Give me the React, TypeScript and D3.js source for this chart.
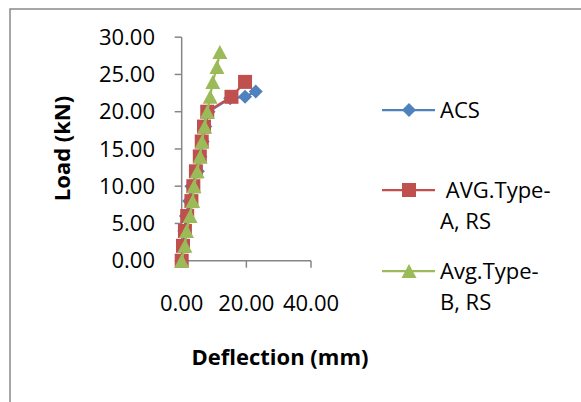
import React from "react";
import * as d3 from "d3";

const loadTicks = [0, 5, 10, 15, 20, 25, 30];
const deflTicks = [0, 20, 40];

const acsDefl = [0, 0.3, 0.8, 1.3, 2.3, 3.0, 5.0, 5.8, 6.5, 7.3, 8.3, 15.0, 19.6, 22.9];
const acsLoad = [0, 2, 4, 6, 8, 10, 12, 14, 16, 18, 20, 21.8, 22.0, 22.7];

const typeADefl = [0, 0.4, 1.0, 1.7, 3.0, 3.6, 4.4, 5.6, 6.2, 6.9, 7.9, 15.4, 19.6];
const typeALoad = [0, 2, 4, 6, 8, 10, 12, 14, 16, 18, 20, 22, 24];

const typeBDefl = [0, 1.0, 1.5, 2.6, 3.4, 3.8, 4.8, 5.7, 6.3, 7.1, 7.9, 8.8, 9.6, 10.9, 11.8];
const typeBLoad = [0, 2, 4, 6, 8, 10, 12, 14, 16, 18, 20, 22, 24, 26, 28];

const seriesNames = ["ACS", " AVG.Type-\nA, RS", "Avg.Type-\nB, RS"];
const seriesColors = ["#4F81BD", "#C0504D", "#9BBB59"];

const FONT = "'Open Sans', 'Noto Sans', sans-serif";

function markerPath(kind: number): string {
  if (kind === 0) return "M0,-7L7,0L0,7L-7,0Z";
  if (kind === 1) return "M-7,-7L7,-7L7,7L-7,7Z";
  return "M0,-7L7.5,7L-7.5,7Z";
}

export default function App() {
  const x = d3.scaleLinear().domain([0, 40]).range([181.7, 311]);
  const y = d3.scaleLinear().domain([0, 30]).range([260.7, 37.2]);
  const series = [
    { xs: acsDefl, ys: acsLoad },
    { xs: typeADefl, ys: typeALoad },
    { xs: typeBDefl, ys: typeBLoad },
  ];
  const line = d3
    .line<[number, number]>()
    .x((d) => x(d[0]))
    .y((d) => y(d[1]));
  const axisColor = "#868686";
  const legendY = [110, 190, 271];

  return (
    <svg
      width={581}
      height={402}
      style={{ position: "absolute", left: 0, top: 0, background: "#fff" }}
      fontFamily={FONT}
    >
      <rect x={0} y={0} width={581} height={402} fill="#fff" />
      <rect x={10} y={9} width={600} height={420} fill="none" stroke="#898989" strokeWidth={1.5} />

      {/* y axis */}
      <line x1={x(0)} x2={x(0)} y1={y(30)} y2={y(0)} stroke={axisColor} strokeWidth={1.5} />
      {loadTicks.map((t) => (
        <g key={"yt" + t}>
          <line x1={x(0) - 7} x2={x(0)} y1={y(t)} y2={y(t)} stroke={axisColor} strokeWidth={1.5} />
          <text x={155} y={y(t)} dy="0.35em" textAnchor="end" fontSize={22} fill="#000">
            {t.toFixed(2)}
          </text>
        </g>
      ))}

      {/* x axis */}
      <line x1={x(0)} x2={x(40)} y1={y(0)} y2={y(0)} stroke={axisColor} strokeWidth={1.5} />
      {deflTicks.map((t) => (
        <g key={"xt" + t}>
          <line x1={x(t)} x2={x(t)} y1={y(0)} y2={y(0) + 7} stroke={axisColor} strokeWidth={1.5} />
          <text x={x(t)} y={303} dy="0.35em" textAnchor="middle" fontSize={22} fill="#000">
            {t.toFixed(2)}
          </text>
        </g>
      ))}

      {/* axis titles */}
      <text x={280} y={357} dy="0.35em" textAnchor="middle" fontSize={22} fontWeight="bold" fill="#000">
        Deflection (mm)
      </text>
      <text
        transform={`translate(62.5,148.5) rotate(-90)`}
        dy="0.35em"
        textAnchor="middle"
        fontSize={22}
        fontWeight="bold"
        fill="#000"
      >
        Load (kN)
      </text>

      {/* series */}
      {series.map((s, i) => {
        const pts: [number, number][] = s.xs.map((v, j) => [v, s.ys[j]]);
        return (
          <g key={"s" + i}>
            <path d={line(pts) || ""} fill="none" stroke={seriesColors[i]} strokeWidth={2.25} strokeLinejoin="round" />
            {pts.map((p, j) => (
              <path
                key={j}
                d={markerPath(i)}
                transform={`translate(${x(p[0])},${y(p[1])})`}
                fill={seriesColors[i]}
              />
            ))}
          </g>
        );
      })}

      {/* legend */}
      {seriesNames.map((name, i) => {
        const ly = legendY[i];
        const lines = name.split("\n");
        return (
          <g key={"lg" + i}>
            <line x1={382} x2={435} y1={ly} y2={ly} stroke={seriesColors[i]} strokeWidth={2.25} />
            <path d={markerPath(i)} transform={`translate(409,${ly})`} fill={seriesColors[i]} />
            {lines.map((ln, k) => (
              <text
                key={k}
                x={440}
                y={ly + k * 31}
                dy="0.35em"
                fontSize={22}
                fill="#000"
                style={{ whiteSpace: "pre" }}
              >
                {ln}
              </text>
            ))}
          </g>
        );
      })}
    </svg>
  );
}
